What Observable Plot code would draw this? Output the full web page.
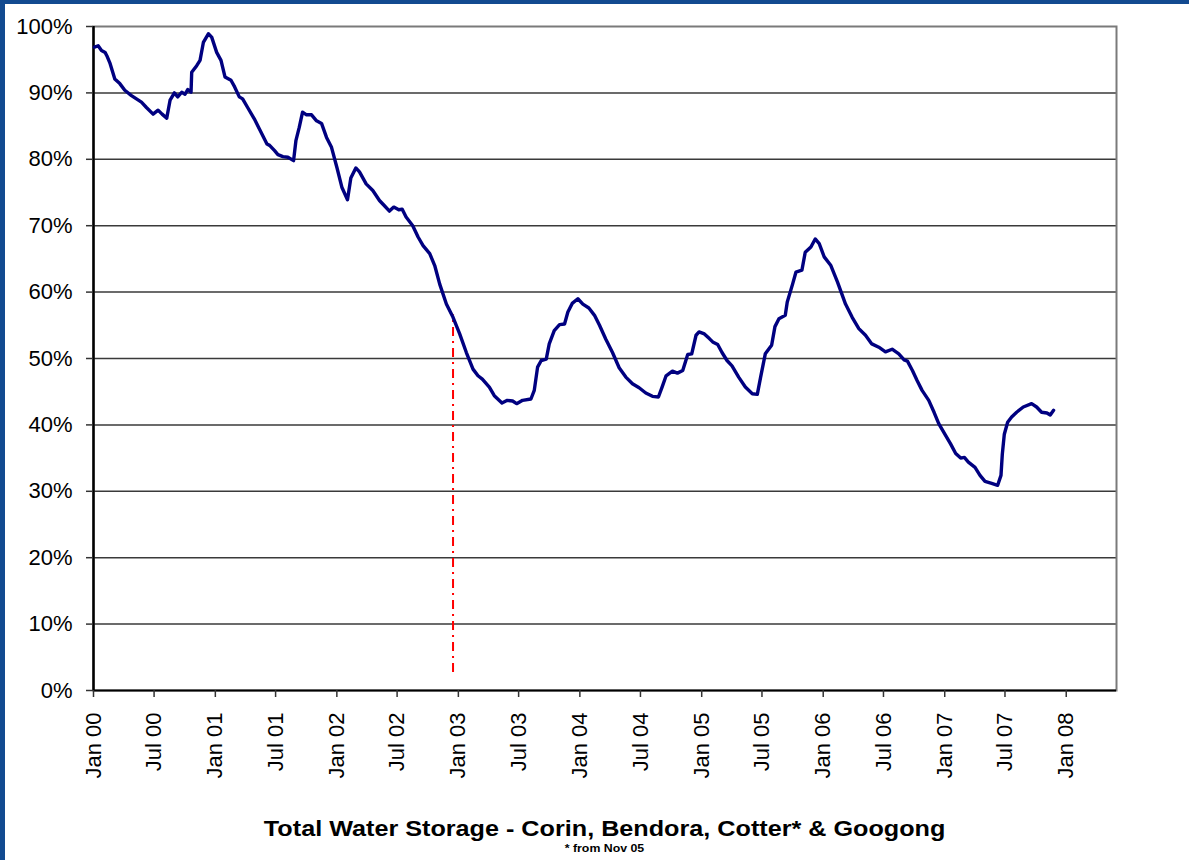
<!DOCTYPE html>
<html>
<head>
<meta charset="utf-8">
<script src="https://cdn.jsdelivr.net/npm/d3@7"></script>
<script src="https://cdn.jsdelivr.net/npm/@observablehq/plot@0.6"></script>
<style>
  html, body { margin: 0; padding: 0; background: #fff; }
  body { width: 1189px; height: 860px; position: relative; overflow: hidden; font-family: "Liberation Sans", Arial, sans-serif; }
  #stripL { position: absolute; left: 0; top: 0; width: 5px; height: 860px; background: #124a90; }
  #stripT { position: absolute; left: 0; top: 0; width: 1189px; height: 4px; background: #124a90; }
  #chart { position: absolute; left: 0; top: 0; }
  #titles { position: absolute; left: 0; top: 800px; width: 1209px; text-align: center; color: #000; }
  #title { margin-top: 16px; font-size: 22px; line-height: 26px; font-weight: bold; }
  #title span { display: inline-block; transform: scaleX(1.145); }
  #sub { font-size: 11px; line-height: 12px; font-weight: bold; }
  #sub span { display: inline-block; transform: scaleX(1.12); }
</style>
</head>
<body>
<div id="chart"></div>
<div id="stripL"></div>
<div id="stripT"></div>
<div id="titles">
  <div id="title"><span>Total Water Storage - Corin, Bendora, Cotter* &amp; Googong</span></div>
  <div id="sub"><span>* from Nov 05</span></div>
</div>
<script>
const dates = [
"2000-01-04","2000-01-15","2000-01-25","2000-02-05","2000-02-10","2000-02-20","2000-03-05","2000-03-20","2000-04-04","2000-04-24",
"2000-05-09","2000-05-24","2000-06-08","2000-06-28","2000-07-13","2000-07-25","2000-08-08","2000-08-18","2000-08-31","2000-09-10",
"2000-09-22","2000-10-02","2000-10-10","2000-10-20","2000-10-22","2000-11-06","2000-11-16","2000-11-26","2000-12-11","2000-12-21",
"2001-01-05","2001-01-18","2001-01-30","2001-02-17","2001-02-28","2001-03-14","2001-03-24","2001-04-08","2001-04-28","2001-05-13",
"2001-06-05","2001-06-13","2001-06-28","2001-07-08","2001-07-23","2001-08-07","2001-08-24","2001-08-31","2001-09-10","2001-09-20",
"2001-10-02","2001-10-17","2001-11-01","2001-11-16","2001-12-01","2001-12-16","2002-01-01","2002-01-16","2002-02-02","2002-02-12",
"2002-02-27","2002-03-10","2002-03-30","2002-04-19","2002-05-09","2002-05-24","2002-06-08","2002-06-21","2002-07-06","2002-07-16",
"2002-07-28","2002-08-17","2002-09-02","2002-09-17","2002-10-07","2002-10-22","2002-11-06","2002-11-26","2002-12-16","2003-01-05",
"2003-01-25","2003-02-14","2003-03-01","2003-03-14","2003-04-04","2003-04-19","2003-05-12","2003-05-28","2003-06-13","2003-06-25",
"2003-07-13","2003-08-07","2003-08-17","2003-08-27","2003-09-07","2003-09-22","2003-10-01","2003-10-16","2003-11-01","2003-11-16",
"2003-11-26","2003-12-09","2003-12-26","2004-01-10","2004-01-28","2004-02-14","2004-02-29","2004-03-19","2004-04-08","2004-04-28",
"2004-05-18","2004-06-07","2004-06-27","2004-07-17","2004-08-06","2004-08-24","2004-09-04","2004-09-16","2004-10-05","2004-10-20",
"2004-11-05","2004-11-20","2004-12-02","2004-12-15","2004-12-24","2005-01-09","2005-01-24","2005-02-03","2005-02-18","2005-03-03",
"2005-03-18","2005-04-02","2005-04-22","2005-05-12","2005-06-02","2005-06-17","2005-06-27","2005-07-11","2005-07-30","2005-08-09",
"2005-08-21","2005-09-09","2005-09-15","2005-10-01","2005-10-11","2005-10-29","2005-11-08","2005-11-25","2005-12-08","2005-12-20",
"2006-01-04","2006-01-24","2006-02-13","2006-03-09","2006-03-29","2006-04-18","2006-05-08","2006-05-27","2006-06-17","2006-07-07",
"2006-07-27","2006-08-16","2006-09-01","2006-09-11","2006-09-26","2006-10-10","2006-10-25","2006-11-14","2006-11-30","2006-12-14",
"2007-01-04","2007-01-19","2007-02-03","2007-02-18","2007-03-01","2007-03-13","2007-04-02","2007-04-17","2007-05-02","2007-05-22",
"2007-06-09","2007-06-19","2007-06-23","2007-06-29","2007-07-09","2007-07-21","2007-08-05","2007-08-25","2007-09-19","2007-10-04",
"2007-10-19","2007-11-04","2007-11-14","2007-11-24"
];
const storage = [
96.9,97.1,96.4,96.1,95.6,94.4,92.1,91.4,90.4,89.6,
89.1,88.6,87.8,86.8,87.4,86.8,86.2,88.9,90.0,89.4,
90.1,89.8,90.5,90.1,93.1,94.1,94.9,97.6,98.9,98.4,
96.1,94.9,92.4,91.9,90.9,89.4,89.1,87.8,86.1,84.6,
82.3,82.1,81.3,80.7,80.4,80.3,79.8,82.8,84.8,87.1,
86.7,86.7,85.8,85.4,83.3,81.8,78.8,75.8,73.9,77.2,
78.7,78.1,76.3,75.3,73.8,73.0,72.2,72.8,72.4,72.5,
71.3,70.0,68.3,67.0,65.8,64.0,61.2,58.2,56.2,53.7,
50.9,48.4,47.4,46.9,45.7,44.4,43.3,43.7,43.6,43.2,
43.7,43.9,45.2,48.7,49.7,49.9,52.2,54.2,55.1,55.2,
57.0,58.3,59.0,58.2,57.6,56.5,55.0,52.9,50.9,48.6,
47.2,46.2,45.6,44.8,44.3,44.2,45.7,47.4,48.1,47.8,
48.2,50.6,50.7,53.5,54.0,53.7,53.0,52.5,52.1,50.9,
49.7,48.9,47.2,45.7,44.7,44.6,47.2,50.7,52.0,54.8,
56.0,56.5,58.5,61.2,63.0,63.3,66.0,66.8,68.0,67.3,
65.3,64.0,61.5,58.2,56.2,54.5,53.5,52.2,51.7,51.0,
51.4,50.7,49.8,49.6,48.2,46.7,45.2,43.7,41.9,40.2,
38.4,37.1,35.7,35.0,35.1,34.4,33.6,32.4,31.5,31.2,
30.9,32.4,35.6,38.6,40.4,41.2,41.9,42.7,43.2,42.7,
41.9,41.8,41.5,42.2
];
const xTicks = ["2000-01-01","2000-07-01","2001-01-01","2001-07-01","2002-01-01","2002-07-01","2003-01-01","2003-07-01",
"2004-01-01","2004-07-01","2005-01-01","2005-07-01","2006-01-01","2006-07-01","2007-01-01","2007-07-01","2008-01-01"];
const yTicks = [0,10,20,30,40,50,60,70,80,90,100];
const gridTicks = [10,20,30,40,50,60,70,80,90];
const xDomain = ["2000-01-01","2008-05-31"];
const markerDate = ["2002-12-16"];
const markerLow = 2.7;
const markerHigh = 56.6;

const table = dates.map((d, i) => ({date: new Date(d), value: storage[i]}));
const tickDates = xTicks.map(d => new Date(d));
const fmt = d3.utcFormat("%b %y");

const chart = Plot.plot({
  width: 1189,
  height: 800,
  marginLeft: 93,
  marginRight: 73,
  marginTop: 26,
  marginBottom: 110,
  style: {fontFamily: "'Liberation Sans', Arial, sans-serif", fontSize: "22px", color: "#000", background: "transparent"},
  x: {type: "utc", domain: xDomain.map(d => new Date(d)), label: null},
  y: {domain: [0, 100], label: null},
  marks: [
    Plot.ruleY(gridTicks, {stroke: "#3a3a3a", strokeWidth: 1.5}),
    Plot.frame({stroke: "#7a7a7a", strokeWidth: 2}),
    Plot.ruleY([0], {stroke: "#000", strokeWidth: 2}),
    Plot.ruleX([new Date(xDomain[0])], {stroke: "#000", strokeWidth: 2.5}),
    Plot.axisY({ticks: yTicks, tickFormat: d => d + "%", tickSize: 7, tickPadding: 14, fontSize: 22, stroke: "#333", strokeWidth: 1.5, label: null}),
    Plot.axisX({ticks: tickDates, tickFormat: () => "", tickSize: 7, stroke: "#333", strokeWidth: 1.5, label: null}),
    Plot.text(tickDates, {x: d => d, frameAnchor: "bottom", text: d => fmt(d), rotate: -90, textAnchor: "end", lineAnchor: "middle", dy: 22, fontSize: 22, fill: "#000"}),
    Plot.ruleX(markerDate.map(d => new Date(d)), {x: d => d, y1: markerLow, y2: markerHigh, stroke: "#ff0000", strokeWidth: 2, strokeDasharray: "9,5,2,5"}),
    Plot.line(table, {x: "date", y: "value", stroke: "#000080", strokeWidth: 3.4, strokeLinejoin: "round", strokeLinecap: "round"})
  ]
});
document.getElementById("chart").appendChild(chart);
</script>
</body>
</html>
